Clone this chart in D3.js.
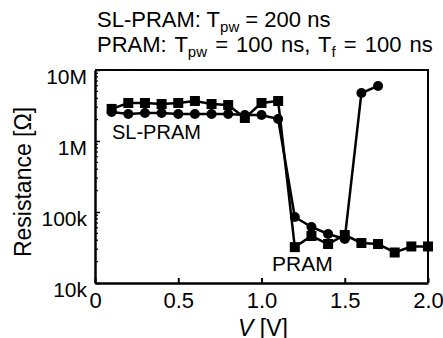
<!DOCTYPE html>
<html>
<head>
<meta charset="utf-8">
<script src="https://cdn.jsdelivr.net/npm/d3@7"></script>
<style>
body { margin: 0; background: #fff; }
svg { font-family: "Liberation Sans", Arial, sans-serif; }
</style>
</head>
<body>
<div id="box1"></div>
<script>
// V [V]
var voltsSL = [0.1, 0.2, 0.3, 0.4, 0.5, 0.6, 0.7, 0.8, 0.9, 1.0, 1.1, 1.2, 1.3, 1.4, 1.5, 1.6, 1.7];
var slPram = [2.56e6, 2.40e6, 2.48e6, 2.48e6, 2.40e6, 2.40e6, 2.40e6, 2.40e6, 2.32e6, 2.32e6, 2.04e6,
              85e3, 61.5e3, 49e3, 41.7e3, 4.74e6, 5.96e6];
var voltsPram = [0.1, 0.2, 0.3, 0.4, 0.5, 0.6, 0.7, 0.8, 0.9, 1.0, 1.1, 1.2, 1.3, 1.4, 1.5, 1.6, 1.7, 1.8, 1.9, 2.0];
var pram = [2.83e6, 3.43e6, 3.43e6, 3.32e6, 3.43e6, 3.66e6, 3.32e6, 3.21e6, 2.11e6, 3.43e6, 3.66e6,
            32e3, 45.9e3, 35.4e3, 47.4e3, 36.6e3, 35.4e3, 26.9e3, 32.7e3, 32.7e3];
var xTicks = [0, 0.5, 1.0, 1.5, 2.0];
var xTickLabels = ["0", "0.5", "1.0", "1.5", "2.0"];
var yTicks = [1e4, 1e5, 1e6, 1e7];
var yTickLabels = ["10k", "100k", "1M", "10M"];

document.addEventListener("DOMContentLoaded", function(e) {
    chart1();
});

function chart1(){
    var width = 443, height = 338;
    var left = 95, right = 428, top = 70, bottom = 283;

    var svg = d3.select("#box1").append("svg")
        .attr("width", width)
        .attr("height", height);

    var x = d3.scaleLinear().domain([0, 2]).range([left, right]);
    var y = d3.scaleLog().domain([1e4, 1e7]).range([bottom, top]);

    // frame top + right
    svg.append("path")
        .attr("d", "M" + left + "," + top + "H" + right + "V" + bottom)
        .attr("fill", "none").attr("stroke", "#000").attr("stroke-width", 2);

    // minor y ticks
    var minor = y.ticks().filter(function(d){ return yTicks.indexOf(d) < 0; });
    svg.selectAll(".minor").data(minor).enter().append("line")
        .attr("x1", left).attr("x2", left + 3)
        .attr("y1", function(d){ return y(d); })
        .attr("y2", function(d){ return y(d); })
        .attr("stroke", "#000").attr("stroke-width", 1.2);

    var yAxis = svg.append("g")
        .attr("transform", "translate(" + left + ",0)")
        .call(d3.axisLeft(y).tickValues(yTicks)
            .tickFormat(function(d, i){ return yTickLabels[i]; })
            .tickSizeInner(-5).tickSizeOuter(0).tickPadding(8));
    yAxis.select(".domain").attr("stroke-width", 2.5);
    yAxis.selectAll(".tick line").attr("stroke-width", 1.5);
    yAxis.selectAll("text").attr("font-size", 21).attr("fill", "#000")
        .attr("font-family", "Liberation Sans, Arial, sans-serif").attr("dy", "0.62em");

    var xAxis = svg.append("g")
        .attr("transform", "translate(0," + bottom + ")")
        .call(d3.axisBottom(x).tickValues(xTicks)
            .tickFormat(function(d, i){ return xTickLabels[i]; })
            .tickSizeInner(-5).tickSizeOuter(0).tickPadding(9));
    xAxis.select(".domain").attr("stroke-width", 2.5);
    xAxis.selectAll(".tick line").attr("stroke-width", 2);
    xAxis.selectAll("text").attr("font-size", 22).attr("fill", "#000")
        .attr("font-family", "Liberation Sans, Arial, sans-serif");

    // lines
    var lineSL = d3.line().x(function(d, i){ return x(voltsSL[i]); }).y(function(d){ return y(d); });
    var linePR = d3.line().x(function(d, i){ return x(voltsPram[i]); }).y(function(d){ return y(d); });
    svg.append("path").attr("d", lineSL(slPram))
        .attr("fill", "none").attr("stroke", "#000").attr("stroke-width", 2.5);
    svg.append("path").attr("d", linePR(pram))
        .attr("fill", "none").attr("stroke", "#000").attr("stroke-width", 2.5);

    svg.selectAll(".sq").data(pram).enter().append("rect")
        .attr("x", function(d, i){ return x(voltsPram[i]) - 5; })
        .attr("y", function(d){ return y(d) - 5; })
        .attr("width", 10).attr("height", 10).attr("fill", "#000");
    svg.selectAll(".ci").data(slPram).enter().append("circle")
        .attr("cx", function(d, i){ return x(voltsSL[i]); })
        .attr("cy", function(d){ return y(d); })
        .attr("r", 5).attr("fill", "#000");

    // series labels
    svg.append("text").attr("x", 112).attr("y", 139).attr("font-size", 20).text("SL-PRAM");
    svg.append("text").attr("x", 272).attr("y", 271).attr("font-size", 21).text("PRAM");

    // title lines
    var t1 = svg.append("text").attr("x", 97).attr("y", 27).attr("font-size", 22);
    t1.append("tspan").text("SL-PRAM: T");
    t1.append("tspan").attr("font-size", 15).attr("dy", 5).text("pw");
    t1.append("tspan").attr("dy", -5).text(" = 200 ns");

    var t2 = svg.append("text").attr("x", 97).attr("y", 52).attr("font-size", 22)
        .attr("word-spacing", 2);
    t2.append("tspan").text("PRAM: T");
    t2.append("tspan").attr("font-size", 15).attr("dy", 5).text("pw");
    t2.append("tspan").attr("dy", -5).text(" = 100 ns, T");
    t2.append("tspan").attr("font-size", 15).attr("dy", 5).text("f");
    t2.append("tspan").attr("dy", -5).text(" = 100 ns");

    // axis titles
    var xt = svg.append("text").attr("x", 263).attr("y", 336)
        .attr("text-anchor", "middle").attr("font-size", 23);
    xt.append("tspan").attr("font-style", "italic").text("V");
    xt.append("tspan").text(" [V]");

    svg.append("text")
        .attr("transform", "translate(31,182) rotate(-90)")
        .attr("text-anchor", "middle").attr("font-size", 23)
        .text("Resistance [Ω]");
}
</script>
</body>
</html>
